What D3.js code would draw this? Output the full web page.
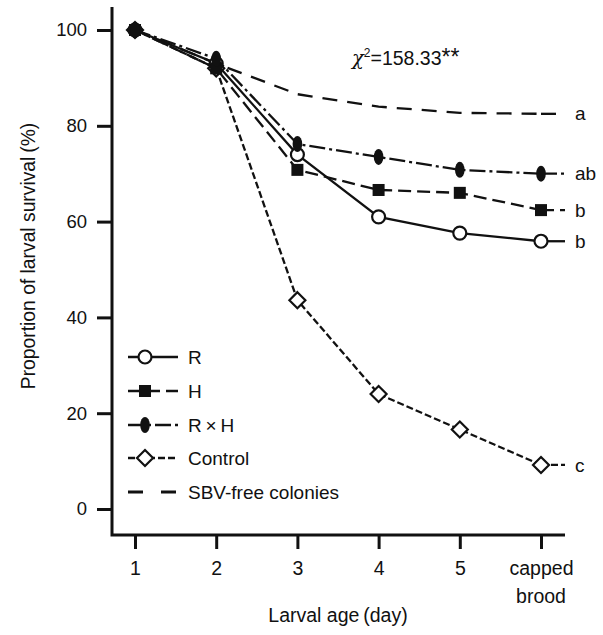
<!DOCTYPE html>
<html>
<head>
<meta charset="utf-8">
<script src="https://cdn.jsdelivr.net/npm/d3@7"></script>
<style>
  body { margin: 0; background: #fff; }
  svg text { font-family: "Liberation Sans", Arial, sans-serif; fill: #111; }
</style>
</head>
<body>
<div id="chart"></div>
<script>
// larval survival by larval age, SBV trial

var days = [1, 2, 3, 4, 5, 6];
var dayLabels = ['1', '2', '3', '4', '5', 'capped'];
var yTicks = [0, 20, 40, 60, 80, 100];

var rVals = [100, 93, 74, 61, 57.6, 55.9];
var hVals = [100, 92, 70.8, 66.6, 66, 62.4];
var rhVals = [100, 94, 76.2, 73.5, 70.8, 70];
var controlVals = [100, 92, 43.6, 24, 16.6, 9.2];
var sbvVals = [100, 93, 86.6, 84, 82.7, 82.5];

var seriesNames = ['R', 'H', 'R\u2009\u00d7\u2009H', 'Control', 'SBV-free colonies'];
var groupLetters = ['b', 'b', 'ab', 'c', 'a'];

var W = 603, H = 635;
var fs = '19px';

var svg = d3.select('#chart').append('svg')
    .attr('width', W)
    .attr('height', H);

var x = d3.scaleLinear().domain([1, 6]).range([135, 541]);
var y = d3.scaleLinear().domain([0, 100]).range([509, 30]);

var axisX0 = 112, axisY0 = 535;

// frame
svg.append('path')
    .attr('d', 'M' + axisX0 + ',7 V' + axisY0 + ' H565')
    .attr('fill', 'none')
    .attr('stroke', '#111')
    .attr('stroke-width', 3);

var yAxis = svg.append('g')
    .attr('transform', 'translate(' + axisX0 + ',0)')
    .call(d3.axisLeft(y).tickValues(yTicks).tickSize(15).tickPadding(10));
yAxis.select('.domain').remove();
yAxis.selectAll('line').attr('stroke', '#111').attr('stroke-width', 3);
yAxis.selectAll('text').style('font-size', '18.5px').attr('fill', '#111');

var xAxis = svg.append('g')
    .attr('transform', 'translate(0,' + axisY0 + ')')
    .call(d3.axisBottom(x).tickValues(days).tickSize(14).tickPadding(12)
        .tickFormat(function(d, i){ return dayLabels[i]; }));
xAxis.select('.domain').remove();
xAxis.selectAll('line').attr('stroke', '#111').attr('stroke-width', 3);
xAxis.selectAll('text').style('font-size', '19.5px').attr('fill', '#111');

svg.append('text')
    .attr('x', x(6))
    .attr('y', 603)
    .attr('text-anchor', 'middle')
    .style('font-size', '19.5px')
    .text('brood');

svg.append('text')
    .attr('x', 338)
    .attr('y', 622)
    .attr('text-anchor', 'middle')
    .style('font-size', '19.5px')
    .text('Larval age\u2009(day)');

svg.append('text')
    .attr('transform', 'translate(35,256) rotate(-90)')
    .attr('text-anchor', 'middle')
    .style('font-size', '19.3px')
    .text('Proportion of larval survival\u2009(%)');

// chi-square note
var chi = svg.append('text')
    .attr('x', 352)
    .attr('y', 65)
    .style('font-size', '19.5px');
chi.append('tspan').style('font-style', 'italic').style('font-family', '"DejaVu Serif", serif').text('\u03c7');
chi.append('tspan').attr('dy', -8).style('font-size', '12px').text('2');
chi.append('tspan').attr('dy', 8).text('=158.33');
chi.append('tspan').style('font-size', '23px').text('**');

var series = [
    { vals: sbvVals, dash: '15,10', marker: 'none' },
    { vals: controlVals, dash: '7,3', marker: 'diamond' },
    { vals: rVals, dash: null, marker: 'circle' },
    { vals: hVals, dash: '13,6', marker: 'square' },
    { vals: rhVals, dash: '16,4,3,4', marker: 'ellipse' }
];

var line = d3.line()
    .x(function(d, i){ return x(days[i]); })
    .y(function(d){ return y(d); });

function drawMarker(g, type, cx, cy) {
    if (type === 'circle') {
        g.append('circle').attr('cx', cx).attr('cy', cy).attr('r', 6.5)
            .attr('fill', '#fff').attr('stroke', '#111').attr('stroke-width', 2.2);
    } else if (type === 'square') {
        g.append('rect').attr('x', cx - 6).attr('y', cy - 6).attr('width', 12).attr('height', 12)
            .attr('fill', '#111');
    } else if (type === 'ellipse') {
        g.append('ellipse').attr('cx', cx).attr('cy', cy).attr('rx', 4.8).attr('ry', 8)
            .attr('fill', '#111');
    } else if (type === 'diamond') {
        g.append('path')
            .attr('d', 'M' + cx + ',' + (cy - 8) + 'L' + (cx + 8) + ',' + cy + 'L' + cx + ',' + (cy + 8) + 'L' + (cx - 8) + ',' + cy + 'Z')
            .attr('fill', '#fff').attr('stroke', '#111').attr('stroke-width', 2.2);
    }
}

series.forEach(function(s){
    var g = svg.append('g');
    g.append('path')
        .datum(s.vals)
        .attr('d', line)
        .attr('fill', 'none')
        .attr('stroke', '#111')
        .attr('stroke-width', 2.3)
        .attr('stroke-dasharray', s.dash);
    var last = s.vals[s.vals.length - 1];
    // short tail past the last point
    g.append('line')
        .attr('x1', x(6)).attr('x2', x(6) + 24)
        .attr('y1', y(last)).attr('y2', y(last))
        .attr('stroke', '#111')
        .attr('stroke-width', 2.3)
        .attr('stroke-dasharray', s.marker === 'none' ? '15,10' : (s.dash || null));
    s.vals.forEach(function(v, i){
        drawMarker(g, s.marker, x(days[i]), y(v));
    });
});

// letters
var letterSeries = [rVals, hVals, rhVals, controlVals, sbvVals];
letterSeries.forEach(function(vals, i){
    svg.append('text')
        .attr('x', 575)
        .attr('y', y(vals[vals.length - 1]))
        .attr('dy', '0.35em')
        .style('font-size', fs)
        .text(groupLetters[i]);
});

// legend
var legendStyles = [
    { dash: null, marker: 'circle' },
    { dash: '13,6', marker: 'square' },
    { dash: '16,4,3,4', marker: 'ellipse' },
    { dash: '7,3', marker: 'diamond' },
    { dash: '15,10', marker: 'none' }
];
var legendY = [357, 391, 425, 458, 492];
legendStyles.forEach(function(st, i){
    var g = svg.append('g');
    if (st.marker === 'none') {
        g.append('line').attr('x1', 128).attr('x2', 178)
            .attr('y1', legendY[i]).attr('y2', legendY[i])
            .attr('stroke', '#111').attr('stroke-width', 3)
            .attr('stroke-dasharray', '15,18');
    } else {
        g.append('line').attr('x1', 128).attr('x2', 178)
            .attr('y1', legendY[i]).attr('y2', legendY[i])
            .attr('stroke', '#111').attr('stroke-width', 2.3)
            .attr('stroke-dasharray', st.dash);
        drawMarker(g, st.marker, 145, legendY[i]);
    }
    g.append('text')
        .attr('x', 188)
        .attr('y', legendY[i])
        .attr('dy', '0.36em')
        .style('font-size', fs)
        .text(seriesNames[i]);
});
</script>
</body>
</html>
